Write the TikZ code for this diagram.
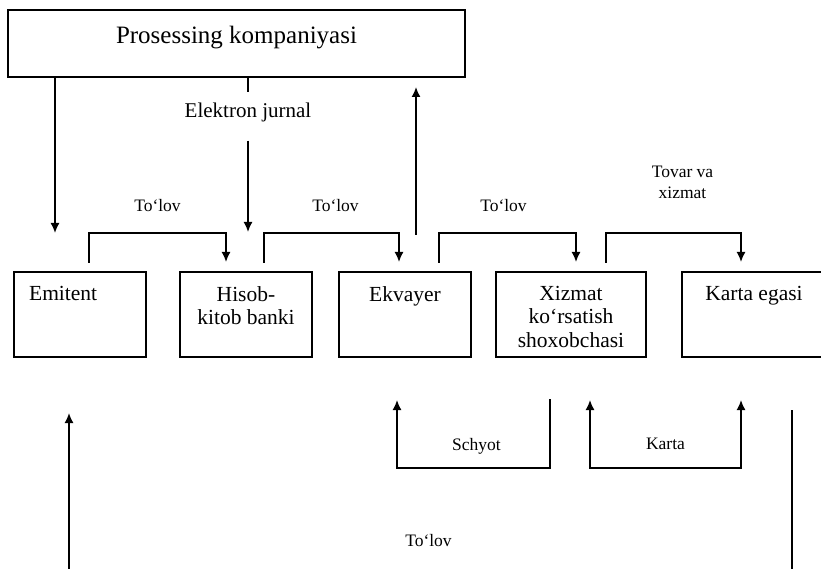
\documentclass[tikz,border=0pt]{standalone}
\usepackage{fontspec}
\setmainfont{Liberation Serif}
\usetikzlibrary{positioning,arrows.meta}
\tikzstyle{block} = [rectangle, draw, outer sep=0pt, inner sep=0pt, minimum height=85pt]
\tikzstyle{bigtext} = [font=\fontsize{25}{28}\selectfont, below=12pt]
\tikzstyle{boxtext} = [font=\fontsize{21.5}{23.5}\selectfont, align=center, below=10pt]
\tikzstyle{lbl} = [font=\fontsize{17.5}{21.5}\selectfont, align=center]
\tikzstyle{line} = [draw, -{Latex[length=10pt,width=9pt]}]
\tikzstyle{both} = [draw, {Latex[length=10pt,width=9pt]}-{Latex[length=10pt,width=9pt]}]
\tikzstyle{bare} = [draw]

\begin{document}
\begin{tikzpicture}[x=1pt, y=1pt, line width=1.6pt]
	\path [use as bounding box, clip] (0,0) rectangle (821,568);

		\node [block, minimum width=457pt, minimum height=67pt, label={[bigtext]north:Prosessing kompaniyasi}] (prosessing) at (236.5,524.5) {};

		\node [block, minimum width=132pt, label={[boxtext, anchor=north west, xshift=11pt]north west:Emitent}] (emitent) at (80,253.5) {};
		\node [block, minimum width=132pt, right=34pt of emitent, label={[boxtext]north:Hisob-\\kitob banki}] (hisob) {};
		\node [block, minimum width=132pt, right=27pt of hisob, label={[boxtext]north:Ekvayer}] (ekvayer) {};
		\node [block, minimum width=150pt, right=25pt of ekvayer, label={[boxtext]north:Xizmat\\ko‘rsatish\\shoxobchasi}] (xizmat) {};
		\node [block, minimum width=144pt, right=36pt of xizmat, label={[boxtext]north:Karta egasi}] (karta) {};

		\node [font=\fontsize{21}{24}\selectfont] (jurnal) at (248,456) {Elektron jurnal};

		\path [line] ([xshift=47pt]prosessing.south west) -- ([xshift=-25pt,yshift=39pt]emitent.north);
		\path [bare] ([xshift=11.5pt]prosessing.south) -- ([yshift=6pt]jurnal.north);
		\path [line] ([yshift=-15pt]jurnal.south) -- ([xshift=2pt,yshift=40pt]hisob.north);
		\path [line] ([xshift=11pt,yshift=37pt]ekvayer.north) -- ([xshift=-49pt,yshift=-10pt]prosessing.south east);

		\path [line] ([xshift=9pt,yshift=9pt]emitent.north) -- ++(0,30) -| node[lbl, pos=0.25, above=17pt] {To‘lov} ([xshift=-20pt,yshift=10pt]hisob.north);
		\path [line] ([xshift=18pt,yshift=9pt]hisob.north) -- ++(0,30) -| node[lbl, pos=0.25, above=17pt, xshift=4pt] {To‘lov} ([xshift=-6pt,yshift=10pt]ekvayer.north);
		\path [line] ([xshift=34pt,yshift=9pt]ekvayer.north) -- ++(0,30) -| node[lbl, pos=0.25, above=17pt, xshift=-4pt] {To‘lov} ([xshift=5pt,yshift=10pt]xizmat.north);
		\path [line] ([xshift=35pt,yshift=9pt]xizmat.north) -- ++(0,30) -| node[lbl, pos=0.25, above=30pt, xshift=9pt] {Tovar va\\xizmat} ([xshift=-13pt,yshift=10pt]karta.north);

		\path [line] ([xshift=-21pt,yshift=-42pt]xizmat.south) -- ++(0,-69) -| node[lbl, pos=0.25, above=10pt, xshift=3pt] {Schyot} ([xshift=-8pt,yshift=-43pt]ekvayer.south);
		\path [both] ([xshift=19pt,yshift=-43pt]xizmat.south) -- ++(0,-68) -| node[lbl, pos=0.25, above=14pt] {Karta} ([xshift=-13pt,yshift=-43pt]karta.south);
		\path [line] ([xshift=38pt,yshift=-53pt]karta.south) -- ++(0,-166) -| node[lbl, pos=0.25, above=25pt, xshift=-2pt] {To‘lov} ([xshift=-11pt,yshift=-56pt]emitent.south);
	\end{tikzpicture}
\end{document}
